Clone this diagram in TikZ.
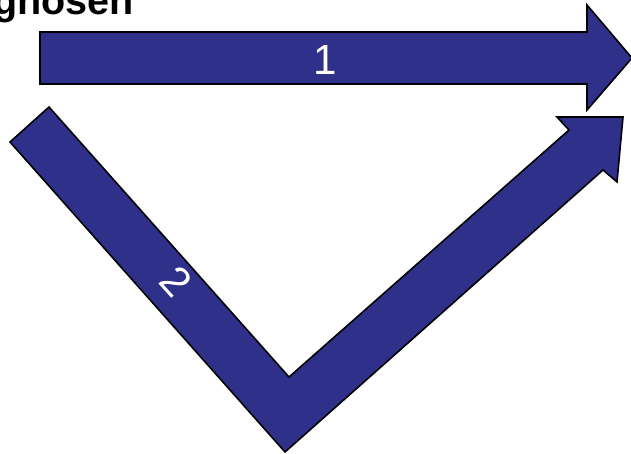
\documentclass[tikz,border=0pt]{standalone}
\usepackage{fontspec}
\setmainfont{Liberation Sans}
\setsansfont{Liberation Sans}
\definecolor{pfeilblau}{RGB}{46,48,138}
\tikzset{
  pfeil/.style={fill=pfeilblau, draw=black, line width=0.9pt, line join=miter},
  ziffer/.style={text=white, inner sep=0pt, font=\fontsize{24}{28}\selectfont}
}
\begin{document}
\begin{tikzpicture}[x=0.02cm, y=-0.02cm, font=\sffamily]

        % ==========================================
        % Rahmen (Pixelraster 631 x 453)
        % ==========================================
        \useasboundingbox (0,0) rectangle (631,453);
        \clip (0,0) rectangle (631,453);

        % ==========================================
        % 1. Titel (abgeschnitten)
        % ==========================================
        \node[anchor=base east, inner sep=0pt, font=\fontsize{22.5}{26}\selectfont\bfseries] (titel) at (134,14) {Diagnosen};

        % ==========================================
        % 2. PFEIL 1: gerade nach rechts
        % ==========================================
        \draw[pfeil] (40,32) -- (587,32) -- (587,5) -- (632,58) -- (587,110)
                     -- (587,84) -- (40,84) -- cycle;
        \node[ziffer] (eins) at (325,60) {1};

        % ==========================================
        % 3. PFEIL 2: nach unten und wieder hoch
        % ==========================================
        \draw[pfeil] (49,107) -- (289,377) -- (569,130) -- (557,117) -- (623,117)
                     -- (617,182) -- (603,170) -- (285,452) -- (10,142) -- cycle;
        \node[ziffer, rotate=-48] (zwei) at (176,281) {2};

\end{tikzpicture}
\end{document}
